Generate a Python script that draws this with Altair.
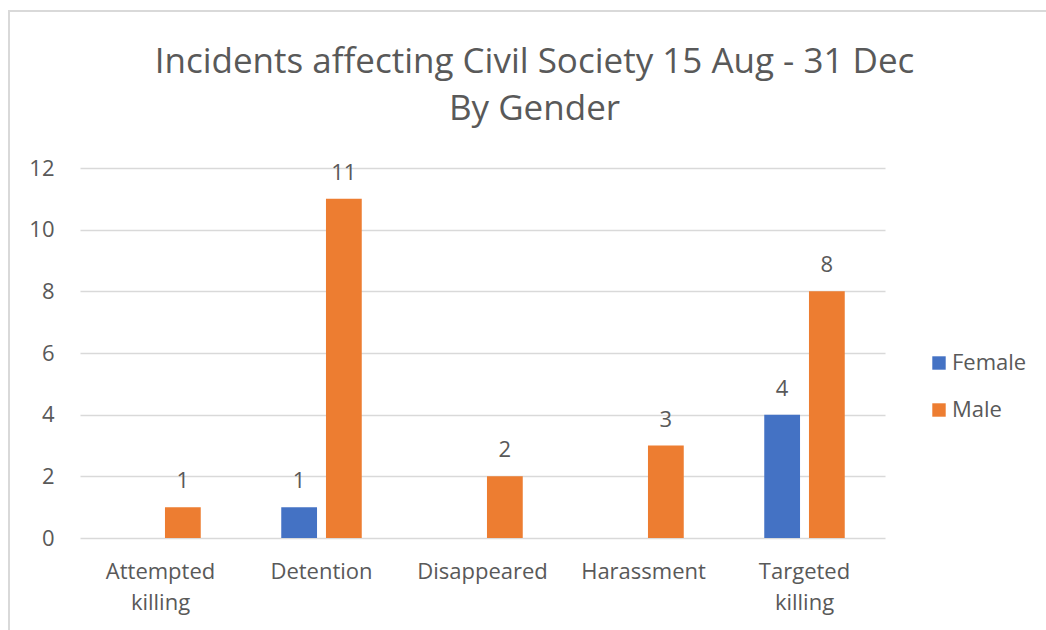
import altair as alt
import pandas as pd

categories = ["Attempted killing", "Detention", "Disappeared", "Harassment", "Targeted killing"]
genders = ["Female", "Male"]
female = [None, 1, None, None, 4]
male = [1, 11, 2, 3, 8]
colors = ["#4472C4", "#ED7D31"]

rows = []
for c, f, m in zip(categories, female, male):
    if f is not None:
        rows.append({"Category": c, "Gender": "Female", "Count": f})
    if m is not None:
        rows.append({"Category": c, "Gender": "Male", "Count": m})
df = pd.DataFrame(rows)

FONT = "Open Sans"
GREY = "#595959"
FS = 22

label_expr = (
    "datum.value == 'Attempted killing' ? ['Attempted','killing'] : "
    "datum.value == 'Targeted killing' ? ['Targeted','killing'] : datum.value"
)

x = alt.X(
    "Category:N",
    sort=categories,
    scale=alt.Scale(paddingInner=0.5, paddingOuter=0.25),
    axis=alt.Axis(
        title=None, labelAngle=0, domain=False, ticks=False,
        labelFont=FONT, labelFontSize=FS, labelColor=GREY,
        labelPadding=23, labelLineHeight=31, labelExpr=label_expr,
    ),
)
xo = alt.XOffset("Gender:N", scale=alt.Scale(domain=genders, paddingInner=0.2, paddingOuter=0))
y = alt.Y(
    "Count:Q",
    scale=alt.Scale(domain=[0, 12]),
    axis=alt.Axis(
        title=None, values=[0, 2, 4, 6, 8, 10, 12], domain=False, ticks=False,
        labelFont=FONT, labelFontSize=FS, labelColor=GREY, labelPadding=26,
        gridColor="#d9d9d9", gridWidth=1.5,
    ),
)

bars = alt.Chart(df).mark_bar().encode(
    x=x, xOffset=xo, y=y,
    color=alt.Color(
        "Gender:N",
        scale=alt.Scale(domain=genders, range=colors),
        legend=alt.Legend(
            title=None, orient="none", legendX=848, legendY=184,
            symbolType="square", symbolSize=180, symbolStrokeWidth=0,
            labelFont=FONT, labelFontSize=FS, labelColor=GREY,
            rowPadding=25, labelOffset=2,
        ),
    ),
)

labels = alt.Chart(df).mark_text(
    font=FONT, fontSize=FS, color=GREY, baseline="alphabetic", dy=-19
).encode(x=x, xOffset=xo, y=y, text="Count:Q")

border = alt.Chart(df).mark_rect(
    fill=None, stroke="#d9d9d9", strokeWidth=2
).encode(
    x=alt.value(-71), x2=alt.value(1100), y=alt.value(-157), y2=alt.value(600)
)

chart = alt.layer(border, bars, labels).properties(
    width=805,
    height=370,
    title=alt.TitleParams(
        text=["Incidents affecting Civil Society 15 Aug - 31 Dec", "By Gender"],
        font=FONT, fontSize=35, fontWeight="normal", color=GREY,
        anchor="middle", frame="group", dx=52, offset=-117, lineHeight=47,
    ),
    padding={"left": 80, "top": 168, "right": 161, "bottom": 92},
    autosize=alt.AutoSizeParams(type="none"),
).configure_view(stroke=None)

chart.save("out.html", embed_options={"renderer": "svg", "actions": False})
